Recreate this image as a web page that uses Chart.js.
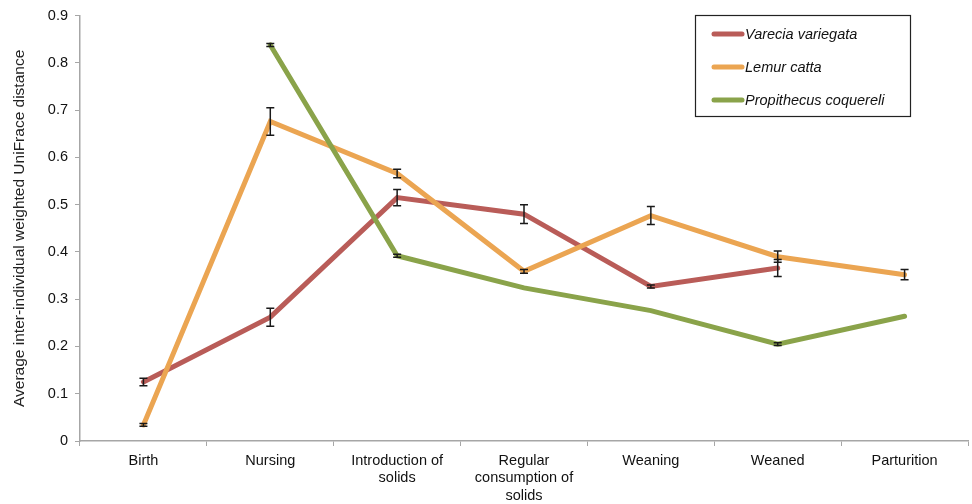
<!DOCTYPE html>
<html>
<head>
<meta charset="utf-8">
<script src="https://cdn.jsdelivr.net/npm/chart.js@4/dist/chart.umd.min.js"></script>
<style>
  html, body { margin: 0; padding: 0; background: #fff; }
  #wrap { width: 972px; height: 504px; position: relative; }
</style>
</head>
<body>
<div id="wrap"><canvas id="c" width="972" height="504"></canvas></div>
<script>
// Developmental stages on the x axis
const stages = [
  'Birth',
  'Nursing',
  ['Introduction of', 'solids'],
  ['Regular', 'consumption of', 'solids'],
  'Weaning',
  'Weaned',
  'Parturition'
];

// Mean inter-individual weighted UniFrac distance per stage
const vareciaMean = [0.125, 0.262, 0.515, 0.480, 0.327, 0.366, null];
const lemurMean   = [0.034, 0.676, 0.566, 0.359, 0.477, 0.390, 0.352];
const propMean    = [null, 0.838, 0.392, 0.324, 0.276, 0.205, 0.264];

// Standard errors
const vareciaErr = [0.008, 0.019, 0.017, 0.020, 0.003, 0.018, null];
const lemurErr   = [0.003, 0.029, 0.009, 0.004, 0.019, 0.012, 0.011];
const propErr    = [null, 0.003, 0.003, null, null, 0.003, null];

const yTicks = [0, 0.1, 0.2, 0.3, 0.4, 0.5, 0.6, 0.7, 0.8, 0.9];

const FONT = '"Liberation Sans", Arial, sans-serif';

// Vertical error bars with caps, taken from each dataset's errors array
const errorBars = {
  id: 'errorBars',
  afterDatasetsDraw(chart) {
    const ctx = chart.ctx;
    const y = chart.scales.y;
    ctx.save();
    ctx.strokeStyle = '#1a1a1a';
    ctx.lineWidth = 1.5;
    chart.data.datasets.forEach((ds, i) => {
      const meta = chart.getDatasetMeta(i);
      ds.data.forEach((v, j) => {
        const e = ds.errors[j];
        if (v == null || e == null) return;
        const px = meta.data[j].x;
        const top = y.getPixelForValue(v + e);
        const bot = y.getPixelForValue(v - e);
        ctx.beginPath();
        ctx.moveTo(px, top); ctx.lineTo(px, bot);
        ctx.moveTo(px - 4, top); ctx.lineTo(px + 4, top);
        ctx.moveTo(px - 4, bot); ctx.lineTo(px + 4, bot);
        ctx.stroke();
      });
    });
    ctx.restore();
  }
};

// Boxed legend with italic species names in the upper right
const boxLegend = {
  id: 'boxLegend',
  afterDraw(chart) {
    const ctx = chart.ctx;
    const x0 = 695, y0 = 15, w = 215, h = 101;
    ctx.save();
    ctx.strokeStyle = '#222';
    ctx.lineWidth = 1.2;
    ctx.strokeRect(x0 + 0.5, y0 + 0.5, w, h);
    const rows = [34, 67, 100];
    chart.data.datasets.forEach((ds, k) => {
      const yy = rows[k];
      ctx.strokeStyle = ds.borderColor;
      ctx.lineWidth = 5;
      ctx.lineCap = 'round';
      ctx.beginPath();
      ctx.moveTo(714, yy); ctx.lineTo(742, yy);
      ctx.stroke();
      ctx.fillStyle = '#111';
      ctx.font = 'italic 14.5px ' + FONT;
      ctx.textBaseline = 'middle';
      ctx.textAlign = 'left';
      ctx.fillText(ds.label, 745, yy + 1);
    });
    ctx.restore();
  }
};

new Chart(document.getElementById('c'), {
  type: 'line',
  data: {
    labels: stages,
    datasets: [
      { label: 'Varecia variegata', data: vareciaMean, errors: vareciaErr,
        borderColor: '#B95C58', order: 2 },
      { label: 'Lemur catta', data: lemurMean, errors: lemurErr,
        borderColor: '#EBA552', order: 1 },
      { label: 'Propithecus coquereli', data: propMean, errors: propErr,
        borderColor: '#8AA34A', order: 0 }
    ]
  },
  options: {
    responsive: false,
    animation: false,
    devicePixelRatio: 1,
    layout: { padding: { top: 12, right: 4, left: 0, bottom: 0 } },
    elements: {
      line: { borderWidth: 5, tension: 0, borderCapStyle: 'round', borderJoinStyle: 'miter', fill: false },
      point: { radius: 0, hoverRadius: 0 }
    },
    plugins: {
      legend: { display: false },
      tooltip: { enabled: false }
    },
    scales: {
      x: {
        type: 'category',
        offset: true,
        grid: {
          offset: true,
          drawOnChartArea: false,
          drawTicks: true,
          tickLength: 5,
          color: '#a6a6a6'
        },
        border: { color: '#a6a6a6', width: 1.5 },
        ticks: {
          color: '#111',
          font: { family: FONT, size: 14.5 },
          padding: 6,
          maxRotation: 0,
          autoSkip: false
        },
        afterFit(s) { s.height = 63; }
      },
      y: {
        min: 0,
        max: 0.9,
        afterBuildTicks(s) { s.ticks = yTicks.map(v => ({ value: v })); },
        grid: {
          drawOnChartArea: false,
          drawTicks: true,
          tickLength: 5,
          color: '#a6a6a6'
        },
        border: { color: '#a6a6a6', width: 1.5 },
        ticks: {
          color: '#111',
          font: { family: FONT, size: 14.5 },
          padding: 7,
          callback: v => String(Math.round(v * 10) / 10)
        },
        title: {
          display: true,
          text: 'Average inter-individual weighted UniFrace distance',
          color: '#222',
          font: { family: FONT, size: 15.5 },
          padding: { top: 10, bottom: 0 }
        },
        afterFit(s) { s.width = 80; }
      }
    }
  },
  plugins: [errorBars, boxLegend]
});
</script>
</body>
</html>
